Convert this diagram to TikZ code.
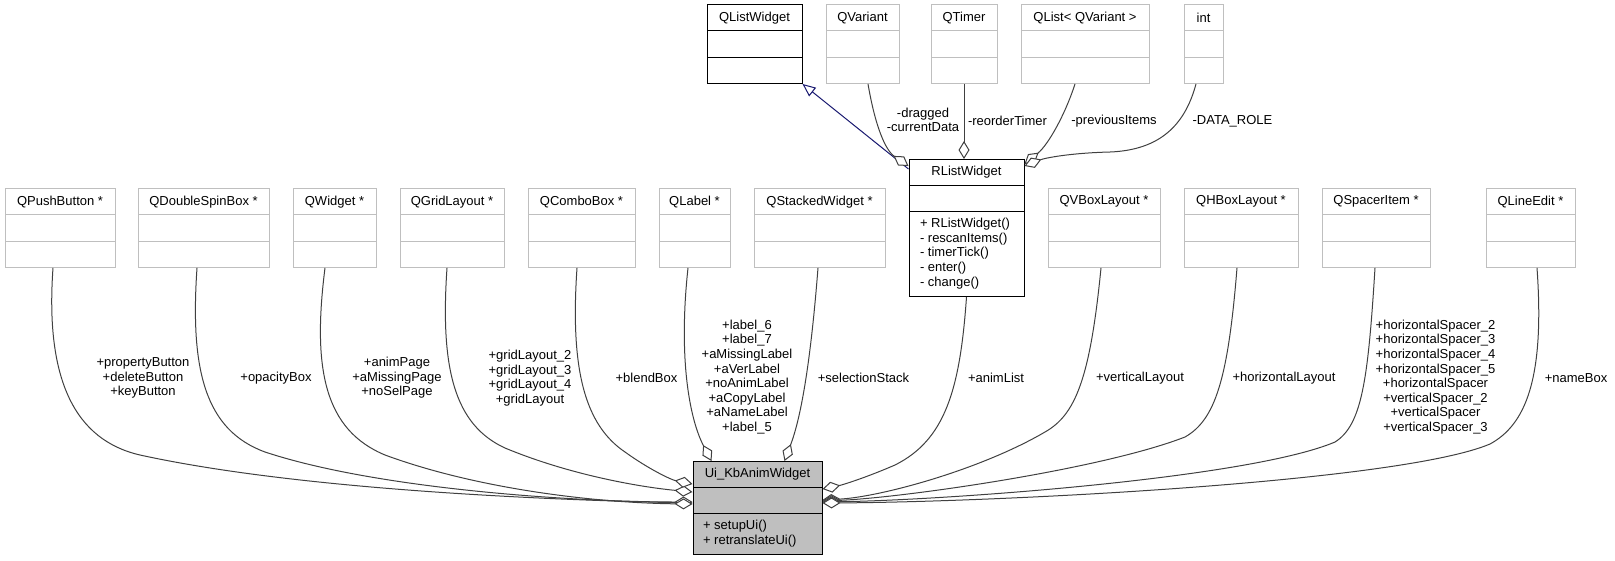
\documentclass[tikz,border=0pt]{standalone}
\usepackage{fontspec}
\setmainfont{Liberation Sans}
\usetikzlibrary{shapes,arrows.meta}

\definecolor{edgegray}{RGB}{64,64,64}
\definecolor{boxgray}{RGB}{191,191,191}
\definecolor{inhblue}{RGB}{25,25,112}

% one compartment of a class box, fixed height
\newcommand{\rowcell}[2]{\vbox to #1pt{\vss\hbox{#2}\vss}}
% class box with only a name
\newcommand{\plaincls}[1]{\rowcell{25.3}{#1}\nodepart{two}\rowcell{25.3}{}\nodepart{three}\rowcell{25.3}{}}

\begin{document}
\begin{tikzpicture}[x=1pt,y=-1pt,font=\fontsize{13}{14.6}\selectfont]
\tikzstyle{cls}=[rectangle split,rectangle split parts=3,draw=boxgray,line width=1pt,inner sep=0pt,minimum width=#1pt,rectangle split part align={center,left}]
\tikzstyle{mcls}=[cls=#1,draw=black]
\tikzstyle{agg}=[draw=edgegray,line width=1pt,-{Diamond[length=18pt,width=11pt,fill=white]}]
\tikzstyle{inh}=[draw=inhblue,line width=1pt,-{Triangle[open,length=13pt,width=11pt]}]
\tikzstyle{lbl}=[align=center,inner sep=0pt]

\useasboundingbox (0,0) rectangle (1615,560);

% top row
\node[mcls=95](qlistw) at (754.5,44) {\plaincls{QListWidget}};
\node[cls=73](qvariant) at (862.5,44) {\plaincls{QVariant}};
\node[cls=66](qtimer) at (964,44) {\plaincls{QTimer}};
\node[cls=128](qlistvar) at (1085,44) {\plaincls{QList< QVariant >}};
\node[cls=39](intcls) at (1203.5,44) {\plaincls{int}};

% middle row
\node[cls=110](pushbtn) at (60,228) {\plaincls{QPushButton *}};
\node[cls=131](spinbox) at (203.5,228) {\plaincls{QDoubleSpinBox *}};
\node[cls=83](widget) at (334.5,228) {\plaincls{QWidget *}};
\node[cls=104](gridlay) at (452,228) {\plaincls{QGridLayout *}};
\node[cls=107](combo) at (581.5,228) {\plaincls{QComboBox *}};
\node[cls=71](qlabel) at (694.5,228) {\plaincls{QLabel *}};
\node[cls=131](stacked) at (819.5,228) {\plaincls{QStackedWidget *}};
\node[mcls=115](rlist) at (966.5,228) {\rowcell{25}{RListWidget}\nodepart{two}\rowcell{25}{}\nodepart{three}\rowcell{84}{\kern11pt\begin{tabular}{@{}l@{}}+ RListWidget()\\- rescanItems()\\- timerTick()\\- enter()\\- change()\end{tabular}}};
\node[cls=112](vboxlay) at (1104,228) {\plaincls{QVBoxLayout *}};
\node[cls=114](hboxlay) at (1241,228) {\plaincls{QHBoxLayout *}};
\node[cls=108](spacer) at (1376,228) {\plaincls{QSpacerItem *}};
\node[cls=89](lineedit) at (1530.5,228) {\plaincls{QLineEdit *}};

% bottom
\node[mcls=129,fill=boxgray](uiwidget) at (757.5,508) {\rowcell{25}{Ui\_KbAnimWidget}\nodepart{two}\rowcell{25}{}\nodepart{three}\rowcell{40}{\kern10pt\begin{tabular}{@{}l@{}}+ setupUi()\\+ retranslateUi()\end{tabular}}};

% RListWidget edges
\draw[inh] ([yshift=-10pt]rlist.north west) -- (qlistw.south east);
\draw[agg] ([xshift=5.5pt]qvariant.south) .. controls (875,125) and (885,150) .. ([yshift=-7pt]rlist.north west);
\draw[agg] (qtimer.south) -- (qtimer.south |- rlist.north);
\draw[agg] ([xshift=-10pt]qlistvar.south) .. controls (1065,115) and (1048,145) .. ([yshift=-5pt]rlist.north east);
\draw[agg] ([xshift=-7.5pt]intcls.south) .. controls (1185,125) and (1160,150) .. (1110,152) .. controls (1070,153) and (1045,158) .. ([yshift=-7pt]rlist.north east);

% Ui_KbAnimWidget edges, left side
\draw[agg] ([xshift=-7pt]pushbtn.south) .. controls (45,380) and (75,440) .. (140,455) .. controls (300,490) and (550,500) .. ([yshift=-42pt]uiwidget.north west);
\draw[agg] ([xshift=-6.5pt]spinbox.south) .. controls (190,370) and (205,430) .. (265,452) .. controls (380,490) and (580,502) .. ([yshift=-41pt]uiwidget.north west);
\draw[agg] ([xshift=-9.5pt]widget.south) .. controls (312,370) and (325,430) .. (385,455) .. controls (480,490) and (600,503) .. ([yshift=-43pt]uiwidget.north west);
\draw[agg] ([xshift=-5pt]gridlay.south) .. controls (440,370) and (455,425) .. (505,448) .. controls (570,475) and (640,487) .. ([yshift=-31pt]uiwidget.north west);
\draw[agg] ([xshift=-4.5pt]combo.south) .. controls (570,370) and (585,425) .. (625,452) .. controls (650,470) and (672,480) .. ([yshift=-23pt]uiwidget.north west);
\draw[agg] ([xshift=-6.5pt]qlabel.south) .. controls (678,360) and (690,420) .. ([xshift=19pt]uiwidget.north west);
\draw[agg] ([xshift=-1.5pt]stacked.south) .. controls (810,370) and (800,420) .. ([xshift=-38pt]uiwidget.north east);

% right side
\draw[agg] (rlist.south) .. controls (960,390) and (945,440) .. (895,465) .. controls (865,478) and (842,485) .. ([yshift=-28pt]uiwidget.north east);
\draw[agg] ([xshift=-3pt]vboxlay.south) .. controls (1090,380) and (1075,415) .. (1045,432) .. controls (980,470) and (880,497) .. ([yshift=-39pt]uiwidget.north east);
\draw[agg] ([xshift=-4pt]hboxlay.south) .. controls (1228,380) and (1215,420) .. (1185,437) .. controls (1100,470) and (900,498) .. ([yshift=-40pt]uiwidget.north east);
\draw[agg] ([xshift=-1pt]spacer.south) .. controls (1368,380) and (1362,425) .. (1335,442) .. controls (1250,478) and (950,500) .. ([yshift=-41pt]uiwidget.north east);
\draw[agg] ([xshift=6.5pt]lineedit.south) .. controls (1545,380) and (1525,425) .. (1490,444) .. controls (1400,482) and (1000,502) .. ([yshift=-42pt]uiwidget.north east);

% edge labels
\node[lbl](lbdata) at (923,120) {-dragged\\-currentData};
\node[lbl](lbtimer) at (1007.5,121) {-reorderTimer};
\node[lbl](lbprev) at (1114,121) {-previousItems};
\node[lbl](lbrole) at (1232.5,121) {-DATA\_ROLE};
\node[lbl](lbpush) at (143,378) {+propertyButton\\+deleteButton\\+keyButton};
\node[lbl](lbopac) at (276,378) {+opacityBox};
\node[lbl](lbpage) at (397,378) {+animPage\\+aMissingPage\\+noSelPage};
\node[lbl](lbgrid) at (530,378) {+gridLayout\_2\\+gridLayout\_3\\+gridLayout\_4\\+gridLayout};
\node[lbl](lbblend) at (646.5,378) {+blendBox};
\node[lbl](lblabel) at (747,377) {+label\_6\\+label\_7\\+aMissingLabel\\+aVerLabel\\+noAnimLabel\\+aCopyLabel\\+aNameLabel\\+label\_5};
\node[lbl](lbstack) at (863.5,378) {+selectionStack};
\node[lbl](lbanim) at (996,378) {+animList};
\node[lbl](lbvert) at (1140,378) {+verticalLayout};
\node[lbl](lbhoriz) at (1284,378) {+horizontalLayout};
\node[lbl](lbspacer) at (1435.5,377) {+horizontalSpacer\_2\\+horizontalSpacer\_3\\+horizontalSpacer\_4\\+horizontalSpacer\_5\\+horizontalSpacer\\+verticalSpacer\_2\\+verticalSpacer\\+verticalSpacer\_3};
\node[lbl](lbname) at (1576,378) {+nameBox};
\end{tikzpicture}
\end{document}
